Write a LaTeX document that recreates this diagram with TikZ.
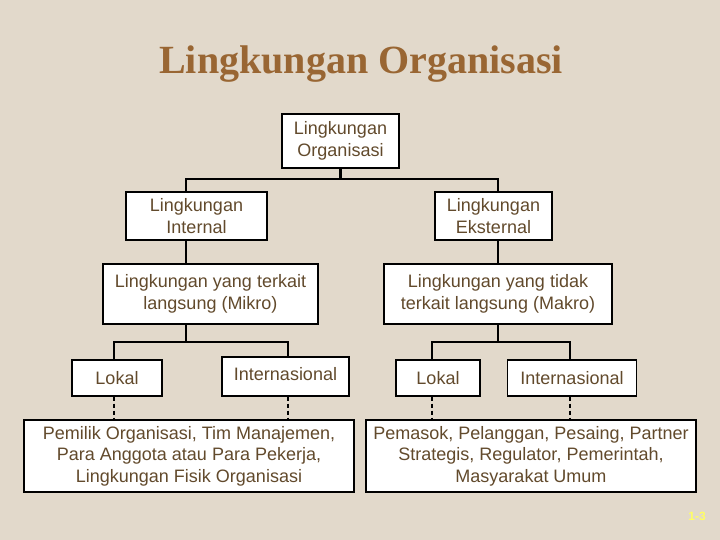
\documentclass[tikz,border=0pt]{standalone}
\usepackage{fontspec}
\setmainfont{Liberation Sans}
\newfontfamily\titlefont{Liberation Serif}
\definecolor{bgpaper}{RGB}{226,217,203}
\definecolor{boxtext}{RGB}{98,74,44}
\definecolor{titlebrown}{RGB}{153,102,51}
\definecolor{pagenum}{RGB}{255,255,100}
\tikzset{
  box/.style={draw=black, fill=white, line width=1.1pt, align=center, inner sep=0pt,
    text=boxtext, font=\fontsize{18}{21.5}\selectfont},
  link/.style={draw=black, line width=2.6pt, line join=miter},
  dashlink/.style={draw=black, line width=2.2pt, dash pattern=on 4pt off 3pt}
}
\begin{document}
\begin{tikzpicture}[x=1pt, y=-1pt, line cap=butt]
			\fill[bgpaper] (0,0) rectangle (720,540);
			\useasboundingbox (0,0) rectangle (720,540);
			\node[text=titlebrown, font=\titlefont\bfseries\fontsize{40}{44}\selectfont, anchor=base] (title) at (361,74){Lingkungan Organisasi};
			% boxes
			\node[box, minimum width=117pt, minimum height=54pt] (org) at (340.5,141){Lingkungan\\Organisasi};
			\node[box, minimum width=141pt, minimum height=48pt] (intern) at (196.5,216){Lingkungan\\Internal};
			\node[box, minimum width=117pt, minimum height=48pt] (ekstern) at (493.5,216){Lingkungan\\Eksternal};
			\node[box, minimum width=215pt, minimum height=60pt] (mikro) at (210.5,294){Lingkungan yang terkait\\langsung (Mikro)};
			\node[box, minimum width=228pt, minimum height=60pt] (makro) at (498,294){Lingkungan yang tidak\\terkait langsung (Makro)};
			\node[box, minimum width=90pt, minimum height=36pt] (lokalL) at (117,378){Lokal};
			\node[box, minimum width=127pt, minimum height=39pt, text depth=5pt] (interL) at (285.5,376.5){Internasional};
			\node[box, minimum width=84pt, minimum height=36pt] (lokalR) at (438,378){Lokal};
			\node[box, minimum width=129pt, minimum height=36pt] (interR) at (572,378){Internasional};
			\node[box, minimum width=330pt, minimum height=72pt] (pihakL) at (189,456){Pemilik Organisasi, Tim Manajemen,\\Para Anggota atau Para Pekerja,\\Lingkungan Fisik Organisasi};
			\node[box, minimum width=330pt, minimum height=72pt] (pihakR) at (531,456){Pemasok, Pelanggan, Pesaing, Partner\\Strategis, Regulator, Pemerintah,\\Masyarakat Umum};
			\node[text=pagenum, font=\bfseries\fontsize{12}{14}\selectfont] (hal) at (697,516){1-3};
			% columns and bars of the tree
			\coordinate (colL) at (186,0);
			\coordinate (colR) at (498,0);
			\coordinate (dLL) at (114,0);
			\coordinate (dLI) at (288,0);
			\coordinate (dRL) at (432,0);
			\coordinate (dRI) at (570,0);
			\coordinate (barA) at (0,179);
			\coordinate (barB) at (0,342);
			\draw[link]
			(org.south)--(org.south |- barA)
			(intern.north -| colL)|-(org.south |- barA)-|(ekstern.north -| colR)
			(intern.south -| colL)--(mikro.north -| colL)
			(ekstern.south -| colR)--(makro.north -| colR)
			(mikro.south -| colL)--(colL |- barB)
			(makro.south -| colR)--(colR |- barB)
			(lokalL.north -| dLL)|-(colL |- barB)-|(interL.north -| dLI)
			(lokalR.north -| dRL)|-(colR |- barB)-|(interR.north -| dRI)
			;
			\draw[dashlink]
			(lokalL.south -| dLL)--(pihakL.north -| dLL)
			(interL.south -| dLI)--(pihakL.north -| dLI)
			(lokalR.south -| dRL)--(pihakR.north -| dRL)
			(interR.south -| dRI)--(pihakR.north -| dRI)
			;
		\end{tikzpicture}
\end{document}
